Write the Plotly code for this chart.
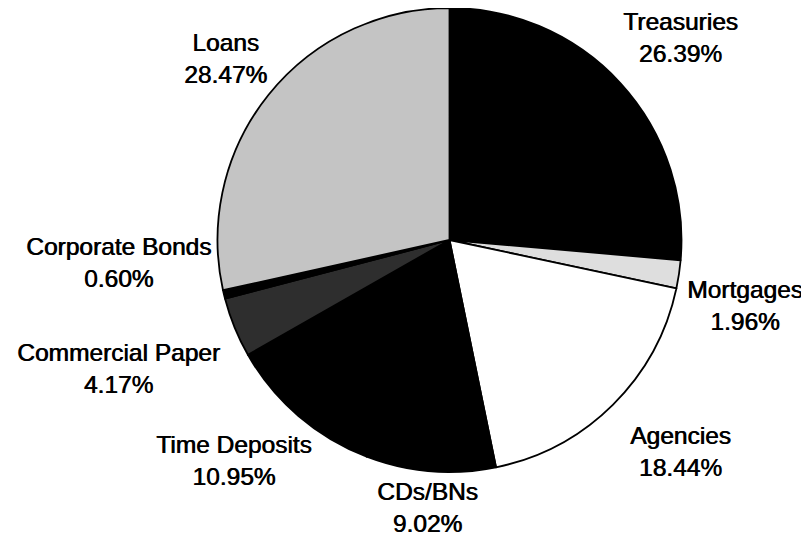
import plotly.graph_objects as go

labels = ["Treasuries", "Mortgages", "Agencies", "CDs/BNs", "Time Deposits",
          "Commercial Paper", "Corporate Bonds", "Loans"]
values = [26.39, 1.96, 18.44, 9.02, 10.95, 4.17, 0.60, 28.47]

colors = ["#000000", "#dedede", "#ffffff", "#000000", "#000000",
          "#2e2e2e", "#000000", "#c4c4c4"]

# label block centers in window pixels (layout, not data)
label_pos = [(680, 38), (745, 305), (680, 451), (428, 507), (234, 460),
             (118, 368), (118, 262), (225, 59)]

WIN_W, WIN_H = 809, 536
OFF = 8  # page body margin
W, H = WIN_W - OFF, WIN_H - OFF
cx, cy, r = 449.5 - OFF, 240 - OFF, 232

fig = go.Figure(go.Pie(
    labels=labels, values=values, sort=False, direction="clockwise",
    rotation=0, textinfo="none", hoverinfo="label+percent",
    marker=dict(colors=colors, line=dict(color="#000000", width=1.8)),
    domain=dict(x=[(cx - r) / W, (cx + r) / W], y=[1 - (cy + r) / H, 1 - (cy - r) / H]),
    showlegend=False,
))

for lab, val, (px, py) in zip(labels, values, label_pos):
    fig.add_annotation(
        x=(px - OFF) / W, y=1 - (py - OFF) / H, xref="paper", yref="paper",
        text=f"{lab}<br>{val:.2f}%", showarrow=False,
        xanchor="center", yanchor="middle", align="center",
        font=dict(family="Liberation Sans, Arial", size=24.5, color="#000000",
                  shadow="0.7px 0px 0px #000000"),
    )

fig.update_layout(
    width=W, height=H, margin=dict(l=0, r=0, t=0, b=0),
    paper_bgcolor="#ffffff", plot_bgcolor="#ffffff",
)

fig.write_html("out.html")
